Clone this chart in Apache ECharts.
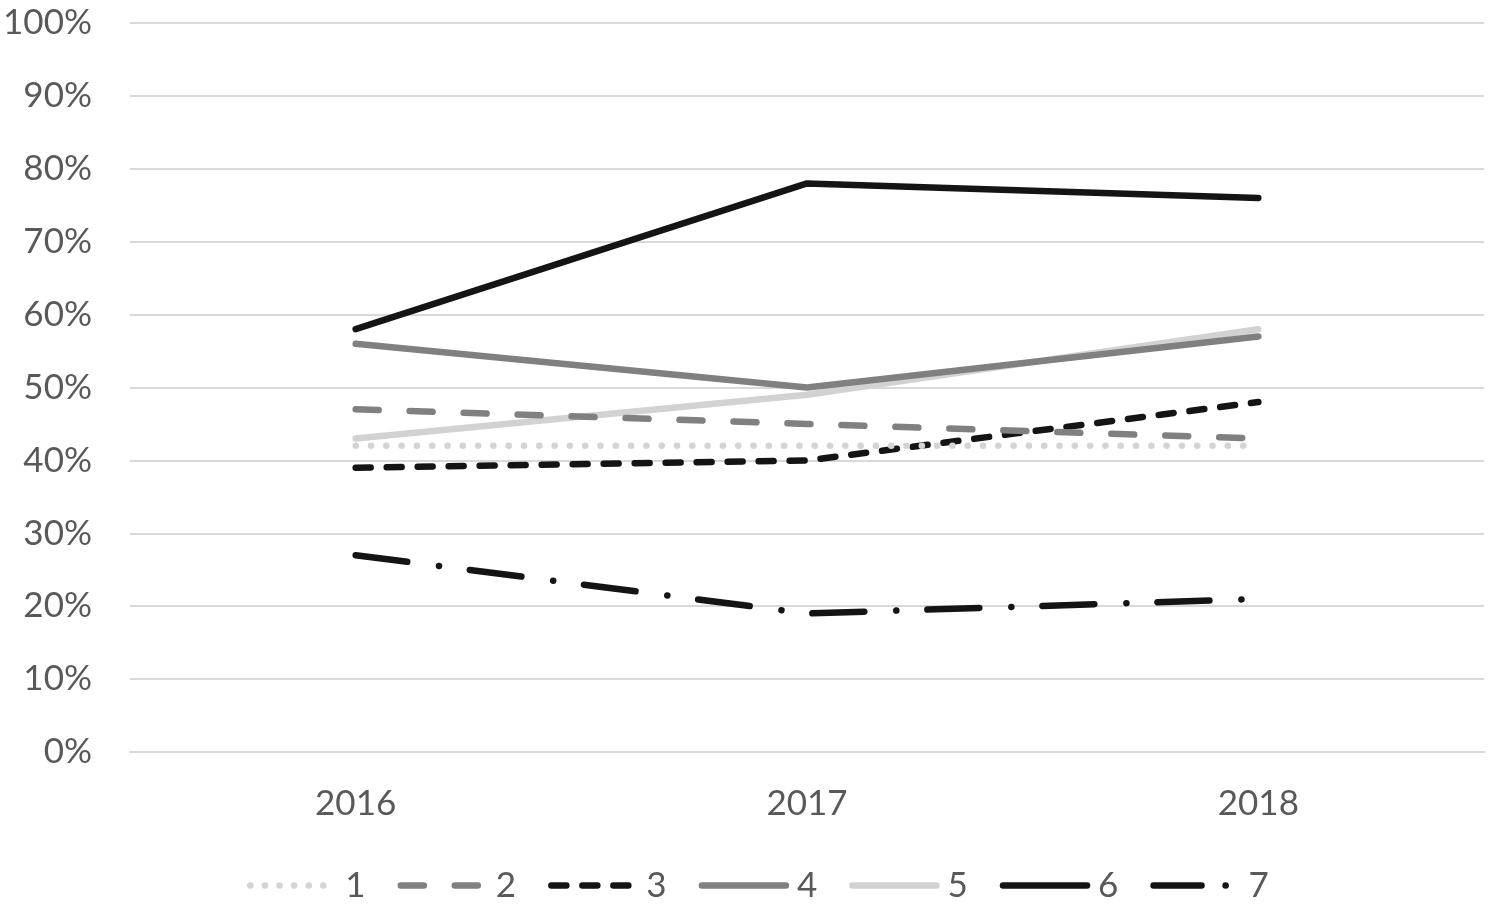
<!DOCTYPE html>
<html>
<head>
<meta charset="utf-8">
<script src="https://cdn.jsdelivr.net/npm/echarts@6/dist/echarts.min.js"></script>
<style>
html,body{margin:0;padding:0;background:#fff;}
#chart{width:1494px;height:908px;}
</style>
</head>
<body>
<div id="chart"></div>
<script>
const years = ['2016', '2017', '2018']
const names = ['1', '2', '3', '4', '5', '6', '7']
const s1 = [42, 42, 42]
const s2 = [47, 45, 43]
const s3 = [39, 40, 48]
const s4 = [56, 50, 57]
const s5 = [43, 49, 58]
const s6 = [58, 78, 76]
const s7 = [27, 19, 21]

const values = [s1, s2, s3, s4, s5, s6, s7]
const colors = ['#d4d4d4', '#808080', '#141414', '#808080', '#d2d2d2', '#141414', '#141414']
const dashes = [[0.1, 15.2], [23, 31], [15, 16], 'solid', 'solid', 'solid', [52, 32, 0.1, 31]]
// legend icons are short, so their dashes are spaced for ~84px
const legendDashes = [[0.1, 14.5], [23, 31], [15, 16], 'solid', 'solid', 'solid', [48, 24, 0.1, 30]]

const font = 'Lato, "Open Sans", sans-serif'
const chart = echarts.init(document.getElementById('chart'))

const series = names.map((n, i) => ({
  name: n,
  type: 'line',
  data: values[i],
  symbol: 'none',
  color: colors[i],
  lineStyle: {
    color: colors[i],
    width: 6.5,
    type: dashes[i],
    cap: 'round',
    join: 'round'
  },
  z: 10 - i
}))

chart.setOption({
  animation: false,
  backgroundColor: '#fff',
  grid: { left: 130, right: 10, top: 23, bottom: 156 },
  legend: {
    bottom: 0,
    left: 242,
    itemWidth: 84,
    itemHeight: 16,
    itemGap: 32,
    itemStyle: { opacity: 0 },
    lineStyle: { width: 6.5, cap: 'round' },
    textStyle: { fontFamily: font, fontSize: 35, color: '#595959', padding: [0, 0, 0, 6] },
    data: names.map((n, i) => ({
      name: n,
      itemStyle: { opacity: 0 },
      lineStyle: { color: colors[i], width: 6.5, type: legendDashes[i], cap: 'round' }
    }))
  },
  xAxis: {
    type: 'category',
    data: years,
    axisLine: { lineStyle: { color: '#d9d9d9', width: 2 } },
    axisTick: { show: false },
    axisLabel: { fontFamily: font, fontSize: 35, color: '#595959', margin: 34 }
  },
  yAxis: {
    type: 'value',
    min: 0,
    max: 100,
    interval: 10,
    axisLine: { show: false },
    axisTick: { show: false },
    splitLine: { lineStyle: { color: '#d9d9d9', width: 2 } },
    axisLabel: { fontFamily: font, fontSize: 35, color: '#595959', margin: 38, formatter: '{value}%' }
  },
  series: series
})
</script>
</body>
</html>
